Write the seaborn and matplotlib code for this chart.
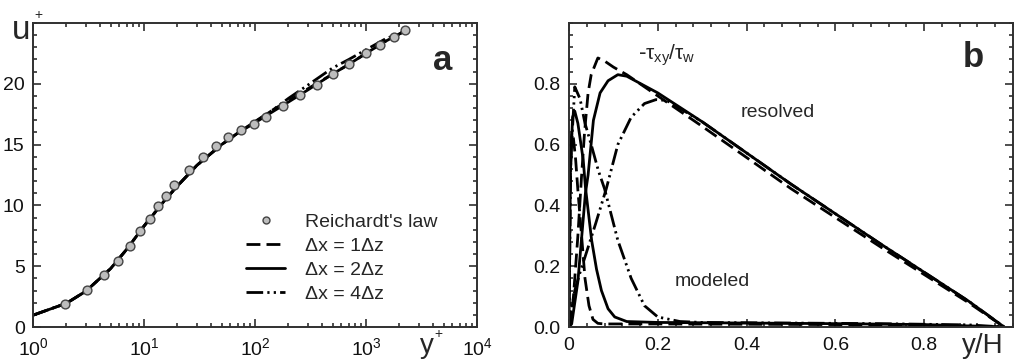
import numpy as np
import pandas as pd
import matplotlib
matplotlib.use("Agg")
import matplotlib.pyplot as plt
from matplotlib.ticker import MultipleLocator, FixedLocator, LogLocator, NullFormatter
from matplotlib.lines import Line2D
import seaborn as sns

# ---------------- Panel a data ----------------
reich_yplus = [1.93, 3.06, 4.33, 5.83, 7.43, 9.27, 11.25, 13.4, 15.9, 18.6, 25.4, 34.0,
               44.9, 57.5, 75.4, 97.3, 125, 178, 252, 363, 503, 703, 1000, 1326, 1780, 2240]
reich_uplus = [1.88, 3.03, 4.25, 5.43, 6.68, 7.92, 8.91, 9.93, 10.76, 11.64, 12.91, 14.01,
               14.9, 15.59, 16.19, 16.69, 17.27, 18.2, 19.09, 19.92, 20.83, 21.66, 22.57, 23.23, 23.81, 24.41]

yplus_line = [1, 2, 3, 5, 7, 10, 15, 20, 30, 50, 70, 100, 150, 200, 300, 500, 700, 1000, 1500, 2200]
u_dx1 = [0.97, 1.95, 2.95, 4.8, 6.4, 8.3, 10.3, 11.6, 13.3, 15.0, 15.95, 16.9, 17.95, 18.6, 19.6, 20.8, 21.6, 22.5, 23.5, 24.3]
u_dx2 = [0.97, 1.95, 2.95, 4.8, 6.4, 8.3, 10.3, 11.6, 13.3, 15.0, 15.95, 16.8, 17.8, 18.5, 19.5, 20.8, 21.6, 22.5, 23.5, 24.3]
u_dx4 = [0.97, 1.95, 2.95, 4.8, 6.4, 8.3, 10.3, 11.6, 13.3, 15.0, 15.95, 16.85, 17.95, 18.8, 19.9, 21.3, 22.0, 22.8, 23.7, 24.3]

# ---------------- Panel b data ----------------
res1_x = [0, 0.005, 0.01, 0.02, 0.028, 0.035, 0.043, 0.05, 0.065, 0.08, 0.1, 0.13, 0.2, 0.3, 0.5, 0.7, 0.9, 0.98]
res1_y = [0, 0.03, 0.1, 0.3, 0.49, 0.64, 0.77, 0.83, 0.885, 0.875, 0.855, 0.83, 0.76, 0.66, 0.455, 0.265, 0.08, 0.0]

res2_x = [0, 0.006, 0.01, 0.02, 0.03, 0.037, 0.043, 0.055, 0.07, 0.088, 0.11, 0.13, 0.2, 0.3, 0.5, 0.7, 0.9, 0.98]
res2_y = [0, 0.01, 0.05, 0.15, 0.32, 0.44, 0.5, 0.68, 0.77, 0.81, 0.83, 0.825, 0.77, 0.675, 0.47, 0.275, 0.085, 0.0]

res4_x = [0, 0.005, 0.013, 0.025, 0.036, 0.06, 0.084, 0.11, 0.14, 0.17, 0.196, 0.22, 0.3, 0.5, 0.7, 0.9, 0.98]
res4_y = [0, 0.05, 0.12, 0.18, 0.23, 0.34, 0.455, 0.6, 0.69, 0.735, 0.748, 0.745, 0.675, 0.47, 0.275, 0.085, 0.0]

mod1_x = [0, 0.002, 0.006, 0.01, 0.015, 0.02, 0.025, 0.03, 0.036, 0.045, 0.054, 0.065, 0.08, 0.2, 0.4, 0.6, 0.8, 0.98]
mod1_y = [0, 0.45, 0.64, 0.62, 0.55, 0.45, 0.36, 0.27, 0.16, 0.07, 0.025, 0.012, 0.01, 0.01, 0.009, 0.008, 0.006, 0.0]

mod2_x = [0, 0.003, 0.008, 0.013, 0.02, 0.032, 0.037, 0.051, 0.062, 0.073, 0.088, 0.103, 0.13, 0.2, 0.4, 0.6, 0.8, 0.98]
mod2_y = [0, 0.5, 0.69, 0.71, 0.67, 0.55, 0.46, 0.285, 0.19, 0.12, 0.06, 0.033, 0.018, 0.015, 0.013, 0.011, 0.008, 0.0]

mod4_x = [0, 0.004, 0.013, 0.025, 0.036, 0.05, 0.066, 0.08, 0.11, 0.14, 0.17, 0.2, 0.25, 0.3, 0.5, 0.7, 0.9, 0.98]
mod4_y = [0, 0.55, 0.79, 0.75, 0.67, 0.6, 0.515, 0.455, 0.285, 0.16, 0.07, 0.033, 0.018, 0.015, 0.013, 0.011, 0.007, 0.0]

# ---------------- Style ----------------
sns.set_style("ticks")
plt.rcParams["font.family"] = ["Liberation Sans", "DejaVu Sans"]
plt.rcParams["mathtext.fontset"] = "custom"
plt.rcParams["mathtext.rm"] = "Liberation Sans"
plt.rcParams["mathtext.it"] = "Liberation Sans"
plt.rcParams["mathtext.bf"] = "Liberation Sans:bold"

DASH = (0, (5, 2.2))
DDD = (0, (6, 1.5, 0.8, 1.5, 0.8, 1.5))
LW = 2.0
SPINE = "#303030"

fig = plt.figure(figsize=(10.14, 3.61), dpi=100)
axa = fig.add_axes([33 / 1014, 34 / 361, 444 / 1014, 304 / 361])
axb = fig.add_axes([569 / 1014, 34 / 361, 444 / 1014, 304 / 361])

def style_axes(ax):
    for s in ax.spines.values():
        s.set_linewidth(1.4)
        s.set_color(SPINE)
    ax.tick_params(which="both", direction="in", top=True, right=True, colors=SPINE,
                   labelcolor="#111111", labelsize=14, width=1.2)
    ax.tick_params(which="major", length=6)
    ax.tick_params(axis="x", which="major", pad=7)
    ax.tick_params(axis="y", which="major", pad=6)
    ax.tick_params(which="minor", length=3)

# ---------------- Panel a ----------------
sns.lineplot(x=yplus_line, y=u_dx1, ax=axa, color="k", lw=LW, linestyle=DASH, sort=False)
sns.lineplot(x=yplus_line, y=u_dx2, ax=axa, color="k", lw=LW, sort=False)
sns.lineplot(x=yplus_line, y=u_dx4, ax=axa, color="k", lw=LW, linestyle=DDD, sort=False)
sns.scatterplot(x=reich_yplus, y=reich_uplus, ax=axa, color="#bdbdbd", edgecolor="#444444",
                linewidth=1.0, s=40, zorder=3)
axa.set_xscale("log")
axa.set_xlim(1, 1e4)
axa.set_ylim(0, 25)
axa.yaxis.set_major_locator(FixedLocator([0, 5, 10, 15, 20]))
axa.yaxis.set_minor_locator(MultipleLocator(1))
axa.xaxis.set_major_locator(LogLocator(base=10, numticks=10))
axa.xaxis.set_minor_locator(LogLocator(base=10, subs=np.arange(2, 10), numticks=20))
axa.xaxis.set_minor_formatter(NullFormatter())
axa.set_xlabel("")
axa.set_ylabel("")
style_axes(axa)
axa.text(-0.026, 0.975, "u", transform=axa.transAxes, fontsize=24, ha="center", va="center")
axa.text(0.012, 1.025, "+", transform=axa.transAxes, fontsize=10, ha="center", va="center")
axa.text(0.887, -0.062, "y", transform=axa.transAxes, fontsize=20, ha="center", va="center")
axa.text(0.912, -0.022, "+", transform=axa.transAxes, fontsize=10, ha="center", va="center")
axa.text(0.923, 0.878, "a", transform=axa.transAxes, fontsize=25, fontweight="bold",
         ha="center", va="center")

handles = [
    Line2D([], [], marker="o", linestyle="none", markerfacecolor="#bdbdbd",
           markeredgecolor="#444444", markersize=5.0),
    Line2D([], [], color="k", lw=LW, linestyle=DASH),
    Line2D([], [], color="k", lw=LW, linestyle="-"),
    Line2D([], [], color="k", lw=LW, linestyle=DDD),
]
labels = ["Reichardt's law", "\u0394x = 1\u0394z", "\u0394x = 2\u0394z", "\u0394x = 4\u0394z"]
axa.legend(handles, labels, loc="lower left", bbox_to_anchor=(0.45, 0.035), frameon=False,
           fontsize=14, handlelength=2.0, handletextpad=1.0, labelspacing=0.32, borderpad=0.2)

# ---------------- Panel b ----------------
for xs, ys, ls in [(res1_x, res1_y, DASH), (res2_x, res2_y, "-"), (res4_x, res4_y, DDD),
                   (mod1_x, mod1_y, DASH), (mod2_x, mod2_y, "-"), (mod4_x, mod4_y, DDD)]:
    sns.lineplot(x=xs, y=ys, ax=axb, color="k", lw=LW, linestyle=ls, sort=False)
axb.set_xlim(0, 1.0)
axb.set_ylim(0, 1.0)
axb.xaxis.set_major_locator(FixedLocator([0, 0.2, 0.4, 0.6, 0.8]))
axb.set_xticklabels(["0", "0.2", "0.4", "0.6", "0.8"])
axb.xaxis.set_minor_locator(MultipleLocator(0.04))
axb.yaxis.set_major_locator(FixedLocator([0, 0.2, 0.4, 0.6, 0.8]))
axb.set_yticklabels(["0.0", "0.2", "0.4", "0.6", "0.8"])
axb.yaxis.set_minor_locator(MultipleLocator(0.04))
axb.set_xlabel("")
axb.set_ylabel("")
style_axes(axb)
axb.text(0.932, -0.062, "y/H", transform=axb.transAxes, fontsize=20, ha="center", va="center")
axb.text(0.91, 0.888, "b", transform=axb.transAxes, fontsize=25, fontweight="bold",
         ha="center", va="center")
axb.text(0.155, 0.893, r"-$\tau_{xy}/\tau_w$", transform=axb.transAxes, fontsize=15,
         ha="left", va="center", family=["DejaVu Sans"])
axb.text(0.47, 0.707, "resolved", transform=axb.transAxes, fontsize=14, ha="center", va="center")
axb.text(0.322, 0.151, "modeled", transform=axb.transAxes, fontsize=14, ha="center", va="center")

fig.savefig("out.png", dpi=100)
